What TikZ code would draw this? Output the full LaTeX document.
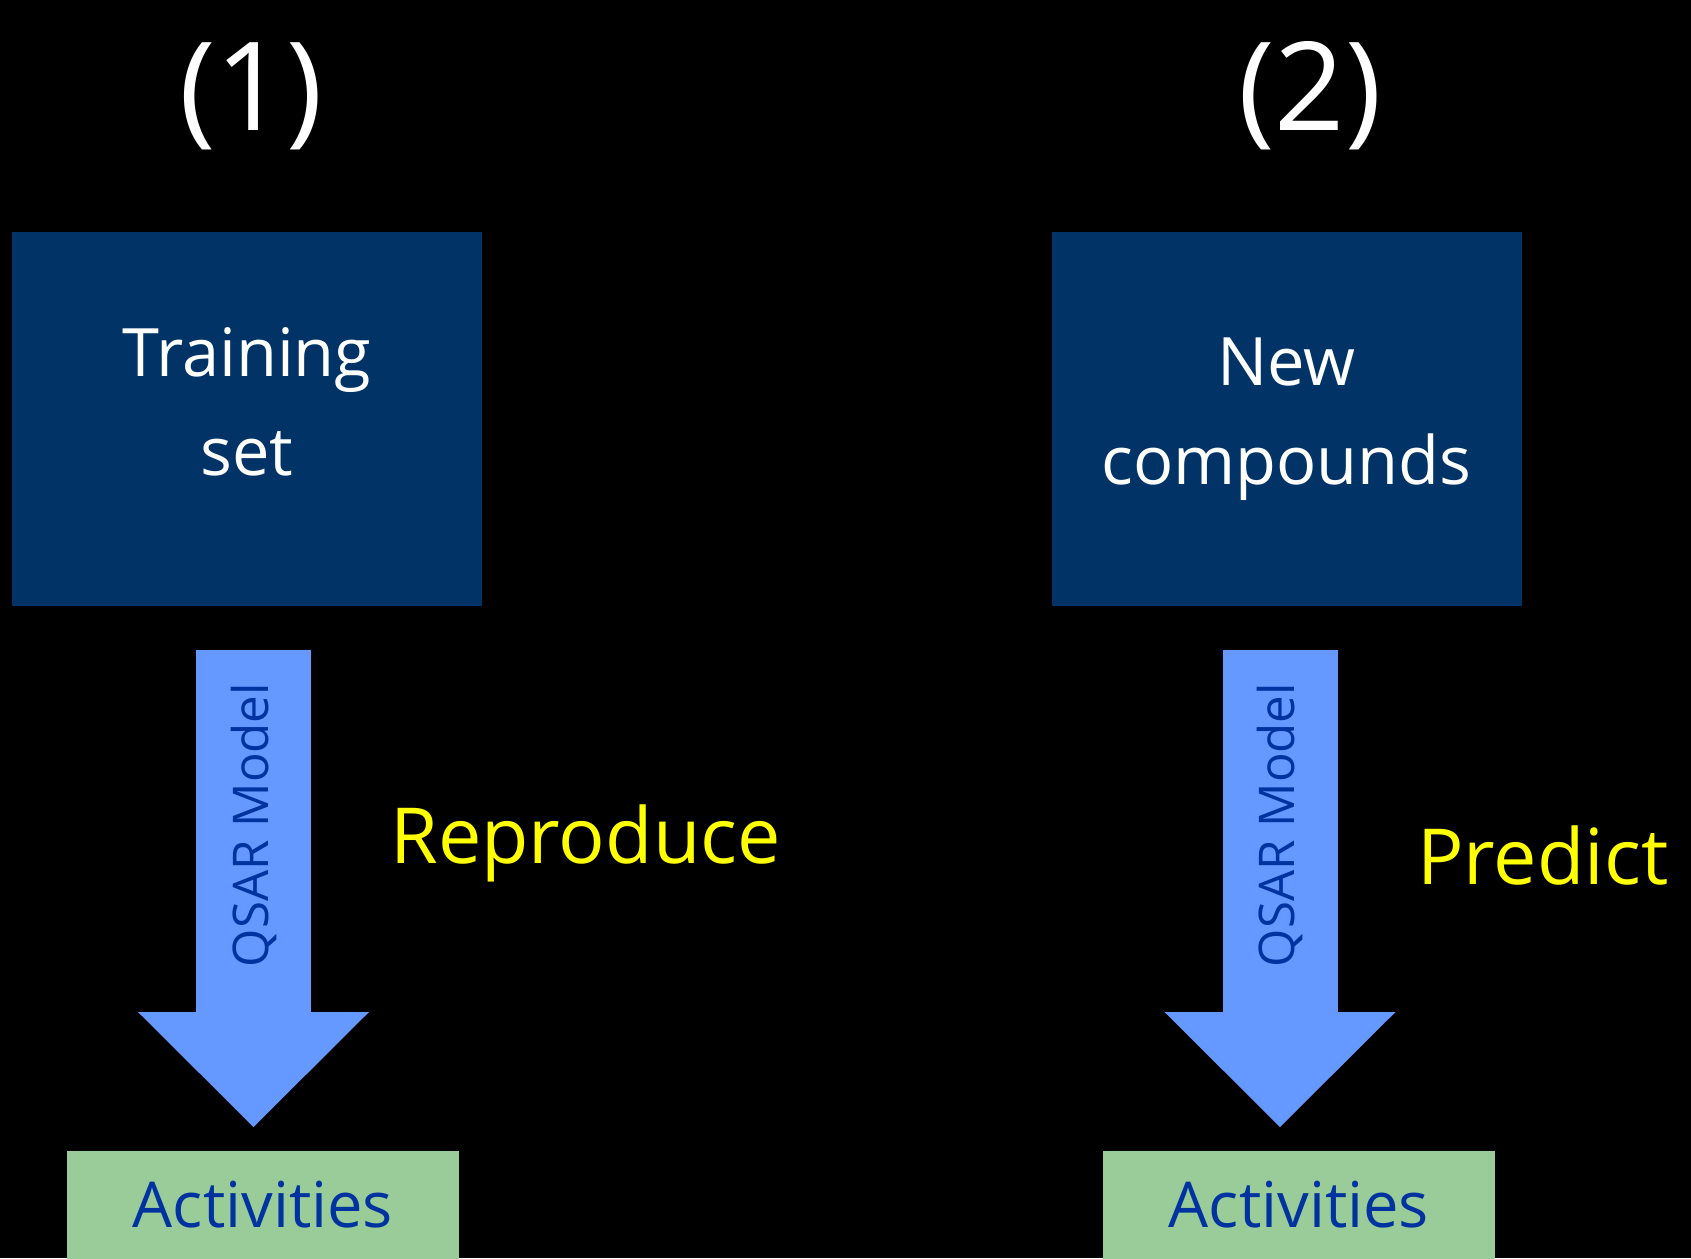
\documentclass[tikz,border=0pt]{standalone}
\usepackage{fontspec}
\setmainfont{Open Sans}
\usepackage{tikz}
\usetikzlibrary{arrows.meta,positioning}

\definecolor{navy}{RGB}{2,51,102}
\definecolor{arrowblue}{RGB}{102,153,255}
\definecolor{palegreen}{RGB}{153,204,153}
\definecolor{inkblue}{RGB}{0,51,160}
\definecolor{lemon}{RGB}{255,255,0}

\begin{document}
\begin{tikzpicture}[
  inbox/.style={fill=navy, minimum width=4.7cm, minimum height=3.74cm},
  intext/.style={text=white, align=center, font=\fontsize{19}{28}\selectfont},
  outbox/.style={fill=palegreen, text=inkblue, minimum width=3.92cm, minimum height=1.08cm, anchor=north, font=\fontsize{18}{22}\selectfont},
  fatarrow/.style={draw=arrowblue, line width=1.15cm, -{Triangle[length=1.15cm, width=2.31cm, line width=0pt]}, shorten <=0.43cm, shorten >=0.23cm},
  model/.style={text=inkblue, rotate=90, font=\fontsize{14}{16}\selectfont},
  verb/.style={text=lemon, anchor=base west, font=\fontsize{22}{26}\selectfont},
  head/.style={text=white, anchor=base, font=\fontsize{35}{40}\selectfont},
]
% Background
\fill[black] (0,0) rectangle (16.91,-12.58);
\useasboundingbox (0,0) rectangle (16.91,-12.58);
% Column headings
\node[head] (h1) at (2.51,-1.30) {(1)};
\node[head] (h2) at (13.10,-1.30) {(2)};
% Input boxes
\node[inbox] (t1) at (2.47,-4.19) {};
\node[inbox] (t2) at (12.865,-4.19) {};
\node[intext] (l1) at ([yshift=0.17cm]t1.center) {Training\\set};
\node[intext] (l2) at (t2.center) {New\\compounds};
% Output boxes
\node[outbox] (a1) at (2.63,-11.50) {Activities};
\node[outbox] (a2) at (12.99,-11.50) {Activities};
% Model arrows
\coordinate (m1) at (2.535,-8.25);
\coordinate (m2) at (12.80,-8.25);
\draw[fatarrow] (t1.south -| m1) -- (a1.north -| m1);
\draw[fatarrow] (t2.south -| m2) -- (a2.north -| m2);
\node[model] (q1) at (m1) {QSAR Model};
\node[model] (q2) at (m2) {QSAR Model};
% Side labels
\node[verb] (r1) at (3.78,-8.63) {Reproduce};
\node[verb] (p2) at (14.05,-8.84) {Predict};
\end{tikzpicture}
\end{document}
